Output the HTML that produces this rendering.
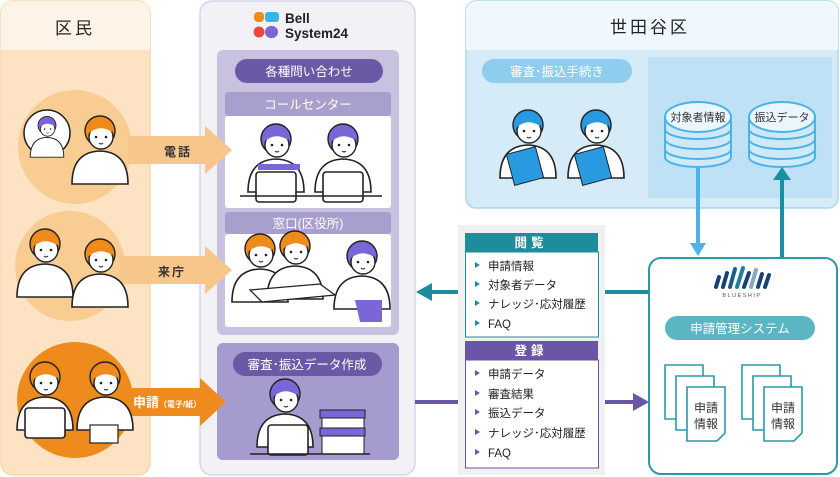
<!DOCTYPE html>
<html><head><meta charset="utf-8"><style>
html,body{margin:0;padding:0;background:#fff;}
svg{display:block;font-family:"Liberation Sans","Noto Sans CJK JP",sans-serif;}
</style></head><body>
<svg width="840" height="477" viewBox="0 0 840 477" xmlns="http://www.w3.org/2000/svg">
<defs>
<g id="p">
  <path d="M-28,52 Q-28,20 0,19 Q28,20 28,52 Z" fill="#fff" stroke="#222" stroke-width="1.6"/>
  <circle cx="0" cy="-1" r="15" fill="currentColor" stroke="#222" stroke-width="1.4"/>
  <ellipse cx="1" cy="5" rx="12" ry="12" fill="#fff" stroke="#222" stroke-width="1.4"/>
  <path d="M-11,1 Q0,-8 12,0 L12,-6 Q0,-12 -11,-5 Z" fill="currentColor"/>
  <circle cx="-4" cy="5" r="1.3" fill="#222"/><circle cx="6" cy="5" r="1.3" fill="#222"/>
  <path d="M-1,11 Q1,13 3,11" stroke="#222" fill="none" stroke-width="1"/>
</g>
<g id="lap">
  <rect x="-20" y="0" width="40" height="30" rx="3" fill="#fff" stroke="#222" stroke-width="1.6"/>
</g>
<g id="db">
  <path d="M-33,0 L-33,40 A33,10 0 0 0 33,40 L33,0" fill="#cfe9f8" stroke="#4ab3e8" stroke-width="2"/>
  <path d="M-33,12 A33,10 0 0 0 33,12 M-33,22 A33,10 0 0 0 33,22 M-33,32 A33,10 0 0 0 33,32" fill="none" stroke="#4ab3e8" stroke-width="2"/>
  <ellipse cx="0" cy="0" rx="33" ry="15" fill="#eaf6fd" stroke="#4ab3e8" stroke-width="2"/>
</g>
<g id="doc">
  <path d="M0,0 H38 V46 L30,54 H0 Z" fill="#fff" stroke="#2a9aa8" stroke-width="1.6"/>
</g>
</defs>

<!-- LEFT PANEL -->
<rect x="1" y="1" width="149" height="474" rx="12" fill="#fde3c4" stroke="#f8d6aa" stroke-width="1.5"/>
<path d="M1,50 V13 A12,12 0 0 1 13,1 H138 A12,12 0 0 1 150,13 V50 Z" fill="#fdf3e6"/>
<text x="75" y="34" font-size="17" text-anchor="middle" fill="#222" letter-spacing="3">区民</text>
<circle cx="75" cy="147" r="57" fill="#f9cc92"/>
<circle cx="70" cy="266" r="55" fill="#f9cc92"/>
<circle cx="75" cy="400" r="58" fill="#ef8a1c"/>

<!-- MIDDLE PANEL -->
<rect x="200" y="1" width="215" height="474" rx="12" fill="#f1f1f6" stroke="#d8d6e8" stroke-width="1.5"/>
<rect x="254" y="12" width="10" height="10" rx="4" fill="#ef8a1c"/>
<rect x="265" y="12" width="14" height="10" rx="3" fill="#3bb3e8"/>
<circle cx="259" cy="32" r="5.5" fill="#e8483d"/>
<rect x="265" y="26" width="13" height="12" rx="6" fill="#7a66d6"/>
<text x="285" y="23" font-size="13.5" font-weight="bold" fill="#222">Bell</text>
<text x="285" y="38" font-size="13.5" font-weight="bold" fill="#222">System24</text>

<rect x="217" y="50" width="182" height="285" rx="6" fill="#c8c1e0"/>
<rect x="235" y="59" width="148" height="24" rx="12" fill="#6a5aa6"/>
<text x="309" y="76" font-size="12.5" text-anchor="middle" fill="#fff">各種問い合わせ</text>
<rect x="225" y="92" width="166" height="24" rx="3" fill="#a89fcc"/>
<text x="308" y="109" font-size="12.5" text-anchor="middle" fill="#fff">コールセンター</text>
<rect x="225" y="116" width="166" height="92" rx="3" fill="#fff"/>
<use href="#p" x="276" y="140" color="#7a66d6"/>
<use href="#p" x="343" y="140" color="#7a66d6"/>
<path d="M258,170 H300 V164 H258 Z M320,170 H362" fill="#7a66d6"/>
<use href="#lap" x="276" y="172"/>
<use href="#lap" x="343" y="172"/>
<line x1="240" y1="196" x2="382" y2="196" stroke="#222" stroke-width="1.4"/>
<rect x="225" y="212" width="166" height="22" rx="3" fill="#a89fcc"/>
<text x="308" y="228" font-size="12.5" text-anchor="middle" fill="#fff">窓口(区役所)</text>
<rect x="225" y="234" width="166" height="93" rx="3" fill="#fff"/>
<use href="#p" x="260" y="250" color="#ef8a1c"/>
<use href="#p" x="295" y="247" color="#ef8a1c"/>
<use href="#p" x="362" y="257" color="#7a66d6"/>
<path d="M250,290 L320,284 L335,295 L262,302 Z" fill="#fff" stroke="#222" stroke-width="1.3"/>
<path d="M355,300 H382 V322 H360 Z" fill="#7a66d6"/>

<rect x="217" y="343" width="182" height="117" rx="6" fill="#a59bcf"/>
<rect x="233" y="352" width="149" height="24" rx="12" fill="#6a5aa6"/>
<text x="307" y="369" font-size="12.5" text-anchor="middle" fill="#fff">審査･振込データ作成</text>
<use href="#p" x="285" y="395" color="#7a66d6"/>
<use href="#lap" x="288" y="425"/>
<rect x="320" y="410" width="45" height="8" fill="#7a66d6" stroke="#222"/>
<rect x="322" y="418" width="42" height="10" fill="#fff" stroke="#222"/>
<rect x="320" y="428" width="45" height="8" fill="#7a66d6" stroke="#222"/>
<rect x="322" y="436" width="42" height="18" fill="#fff" stroke="#222"/>
<line x1="250" y1="454" x2="370" y2="454" stroke="#222" stroke-width="1.4"/>

<!-- arrows from left (drawn over panels) -->
<path d="M128,136 H205 V126 L232,150 L205,174 V164 H128 Z" fill="#f7c68a"/>
<text x="178" y="156" font-size="12" text-anchor="middle" fill="#333" letter-spacing="2" font-weight="bold">電話</text>
<path d="M120,256 H205 V246 L232,270 L205,294 V284 H120 Z" fill="#f7c68a"/>
<text x="172" y="276" font-size="12" text-anchor="middle" fill="#333" letter-spacing="2" font-weight="bold">来庁</text>
<path d="M125,388 H200 V378 L226,402 L200,426 V416 H125 Z" fill="#ef8a1c"/>
<text x="133" y="407" font-size="13" fill="#fff" font-weight="bold">申請<tspan font-size="8">（電子/紙）</tspan></text>

<!-- left people -->
<circle cx="47" cy="133" r="23" fill="#fff" stroke="#222" stroke-width="1.5"/>
<g transform="translate(47 126) scale(0.6)"><use href="#p" color="#7a66d6"/></g>
<use href="#p" x="100" y="132" color="#ef8a1c"/>
<use href="#p" x="45" y="245" color="#ef8a1c"/>
<use href="#p" x="100" y="255" color="#ef8a1c"/>
<use href="#p" x="45" y="378" color="#ef8a1c"/>
<use href="#p" x="105" y="378" color="#ef8a1c"/>
<use href="#lap" x="45" y="408"/>
<rect x="90" y="425" width="28" height="18" fill="#fff" stroke="#222" stroke-width="1.2"/>

<!-- RIGHT TOP PANEL -->
<rect x="466" y="1" width="372" height="207" rx="10" fill="#d5ebf8" stroke="#a9d6f0" stroke-width="1.5"/>
<path d="M466,50 V11 A10,10 0 0 1 476,1 H828 A10,10 0 0 1 838,11 V50 Z" fill="#f0f8fd"/>
<text x="650" y="33" font-size="17" text-anchor="middle" fill="#222" letter-spacing="3">世田谷区</text>
<rect x="482" y="59" width="150" height="24" rx="12" fill="#8fcdee"/>
<text x="557" y="76" font-size="12.5" text-anchor="middle" fill="#fff">審査･振込手続き</text>
<rect x="648" y="57" width="184" height="141" fill="#bfe1f5"/>
<use href="#p" x="528" y="126" color="#2a9ae0"/>
<use href="#p" x="596" y="126" color="#2a9ae0"/>
<rect x="510" y="150" width="30" height="32" fill="#2a9ae0" stroke="#222" transform="rotate(-15 525 166)"/>
<rect x="578" y="150" width="30" height="32" fill="#2a9ae0" stroke="#222" transform="rotate(-15 593 166)"/>
<use href="#db" x="698" y="117"/>
<use href="#db" x="782" y="117"/>
<text x="698" y="121" font-size="11" text-anchor="middle" fill="#333">対象者情報</text>
<text x="782" y="121" font-size="11" text-anchor="middle" fill="#333">振込データ</text>

<!-- vertical connectors -->
<line x1="698" y1="168" x2="698" y2="244" stroke="#4ab3e8" stroke-width="4"/>
<path d="M690,243 L706,243 L698,256 Z" fill="#4ab3e8"/>
<line x1="782" y1="180" x2="782" y2="260" stroke="#1b8fa0" stroke-width="4"/>
<path d="M773,180 L791,180 L782,167 Z" fill="#1b8fa0"/>

<!-- horizontal connectors -->
<line x1="430" y1="292" x2="648" y2="292" stroke="#1e8c9a" stroke-width="4"/>
<path d="M432,283 L432,301 L416,292 Z" fill="#1e8c9a"/>
<line x1="415" y1="402" x2="634" y2="402" stroke="#6a55a7" stroke-width="4"/>
<path d="M633,393 L633,411 L649,402 Z" fill="#6a55a7"/>

<!-- list panel -->
<rect x="458" y="225" width="147" height="250" fill="#f0f0f0"/>
<rect x="465" y="233" width="133" height="19" fill="#1e8c9a"/>
<text x="531" y="247" font-size="12.5" text-anchor="middle" fill="#fff" letter-spacing="4" font-weight="bold">閲覧</text>
<rect x="465.5" y="252" width="133" height="85" fill="#fff" stroke="#1e8c9a"/>
<g font-size="11.5" fill="#222">
<text x="488" y="270">申請情報</text><text x="488" y="289">対象者データ</text><text x="488" y="308">ナレッジ･応対履歴</text><text x="488" y="328">FAQ</text>
</g>
<g fill="#1e8c9a"><path d="M475,262 l5,3 l-5,3z"/><path d="M475,281 l5,3 l-5,3z"/><path d="M475,300 l5,3 l-5,3z"/><path d="M475,320 l5,3 l-5,3z"/></g>
<rect x="465" y="341" width="133" height="19" fill="#6a55a7"/>
<text x="531" y="355" font-size="12.5" text-anchor="middle" fill="#fff" letter-spacing="4" font-weight="bold">登録</text>
<rect x="465.5" y="360" width="133" height="108" fill="#fff" stroke="#6a55a7"/>
<g font-size="11.5" fill="#222">
<text x="488" y="378">申請データ</text><text x="488" y="398">審査結果</text><text x="488" y="417">振込データ</text><text x="488" y="437">ナレッジ･応対履歴</text><text x="488" y="457">FAQ</text>
</g>
<g fill="#6a55a7"><path d="M475,370 l5,3 l-5,3z"/><path d="M475,390 l5,3 l-5,3z"/><path d="M475,409 l5,3 l-5,3z"/><path d="M475,429 l5,3 l-5,3z"/><path d="M475,449 l5,3 l-5,3z"/></g>

<!-- BLUESHIP box -->
<rect x="649" y="258" width="188" height="216" rx="12" fill="#fff" stroke="#2a9aa8" stroke-width="2"/>
<g stroke-width="4" stroke-linecap="round">
<line x1="716" y1="287" x2="719" y2="277" stroke="#173f78"/>
<line x1="723" y1="287" x2="727" y2="273" stroke="#173f78"/>
<line x1="730" y1="287" x2="735" y2="269" stroke="#1a5c8e"/>
<line x1="737" y1="287" x2="743" y2="268" stroke="#1e7fa0"/>
<line x1="744" y1="287" x2="749" y2="273" stroke="#173f78"/>
<line x1="751" y1="287" x2="756" y2="270" stroke="#8aa8bc"/>
<line x1="758" y1="287" x2="762" y2="274" stroke="#173f78"/>
<line x1="765" y1="287" x2="769" y2="275" stroke="#173f78"/>
</g>
<text x="742" y="297" font-size="5.5" text-anchor="middle" fill="#555" letter-spacing="1.5">BLUESHIP</text>
<rect x="665" y="316" width="150" height="24" rx="12" fill="#5bb5c3"/>
<text x="740" y="333" font-size="12.5" text-anchor="middle" fill="#fff">申請管理システム</text>
<use href="#doc" x="665" y="365"/><use href="#doc" x="676" y="376"/><use href="#doc" x="687" y="387"/>
<use href="#doc" x="742" y="365"/><use href="#doc" x="753" y="376"/><use href="#doc" x="764" y="387"/>
<text x="706" y="412" font-size="12" text-anchor="middle" fill="#333">申請</text>
<text x="706" y="428" font-size="12" text-anchor="middle" fill="#333">情報</text>
<text x="783" y="412" font-size="12" text-anchor="middle" fill="#333">申請</text>
<text x="783" y="428" font-size="12" text-anchor="middle" fill="#333">情報</text>
</svg>
</body></html>
